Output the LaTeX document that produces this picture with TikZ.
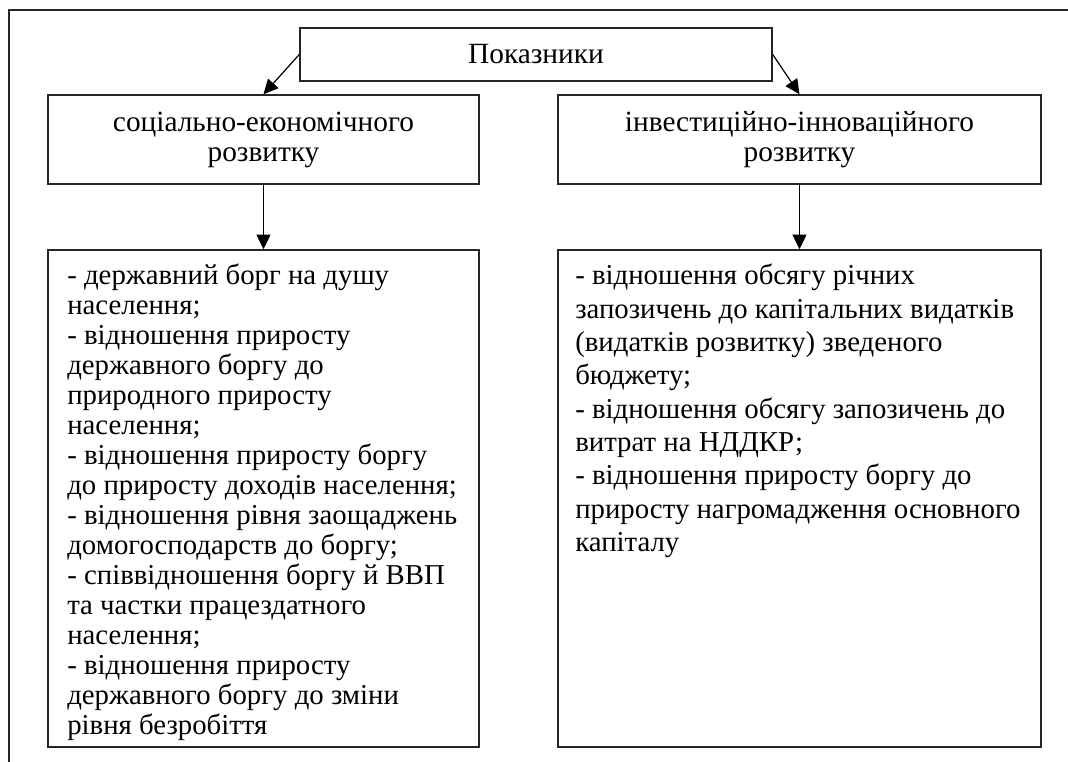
\documentclass[tikz,border=0pt]{standalone}
\usepackage{fontspec}
\setmainfont{Liberation Serif}
\usetikzlibrary{arrows.meta,shadows}
\begin{document}
\begin{tikzpicture}[x=0.75pt,y=-0.75pt,
  box/.style={draw=black!85, line width=1.1pt, fill=white, inner sep=0pt,
    drop shadow={shadow xshift=0.8pt, shadow yshift=-0.8pt, fill=black!35, opacity=1}},
  arr/.style={draw=black, line width=0.9pt, -{Triangle[length=11pt,width=10.5pt]}},
  midtxt/.style={align=center, font=\fontsize{22pt}{22.5pt}\selectfont},
  listtxt/.style={anchor=base west, inner sep=0pt}
]
\useasboundingbox (0,0) rectangle (1068,762);
\draw[line width=1pt, black!85] (1068,10) -- (9,10) -- (9,762);

\node[box, minimum width=354pt, minimum height=39.75pt, midtxt] (top) at (536,54.5) {Показники};
\node[box, minimum width=323.25pt, minimum height=66.75pt, midtxt] (soc) at (263.5,139.5) {соціально-економічного\\розвитку};
\node[box, minimum width=362.25pt, minimum height=66.75pt, midtxt] (inv) at (799.5,139.5) {інвестиційно-інноваційного\\розвитку};
\node[box, minimum width=323.25pt, minimum height=372.75pt] (socl) at (263.5,498.5) {};
\node[box, minimum width=362.25pt, minimum height=372.75pt] (invl) at (799.5,498.5) {};

\node[listtxt] (socltxt) at (67,285) {\parbox[t]{316pt}{\fontsize{21.6pt}{22.5pt}\selectfont\raggedright
- державний борг на душу\\
населення;\\
- відношення приросту\\
державного боргу до\\
природного приросту\\
населення;\\
- відношення приросту боргу\\
до приросту доходів населення;\\
- відношення рівня заощаджень\\
домогосподарств до боргу;\\
- співвідношення боргу й ВВП\\
та частки працездатного\\
населення;\\
- відношення приросту\\
державного боргу до зміни\\
рівня безробіття}};

\node[listtxt] (invltxt) at (575,285) {\parbox[t]{350pt}{\fontsize{21.6pt}{25pt}\selectfont\raggedright
- відношення обсягу річних\\
запозичень до капітальних видатків\\
(видатків розвитку) зведеного\\
бюджету;\\
- відношення обсягу запозичень до\\
витрат на НДДКР;\\
- відношення приросту боргу до\\
приросту нагромадження основного\\
капіталу}};

\draw[arr] (top.west) -- (soc.north);
\draw[arr] (top.east) -- (inv.north);
\draw[arr] (soc.south) -- (socl.north);
\draw[arr] (inv.south) -- (invl.north);
\end{tikzpicture}
\end{document}
